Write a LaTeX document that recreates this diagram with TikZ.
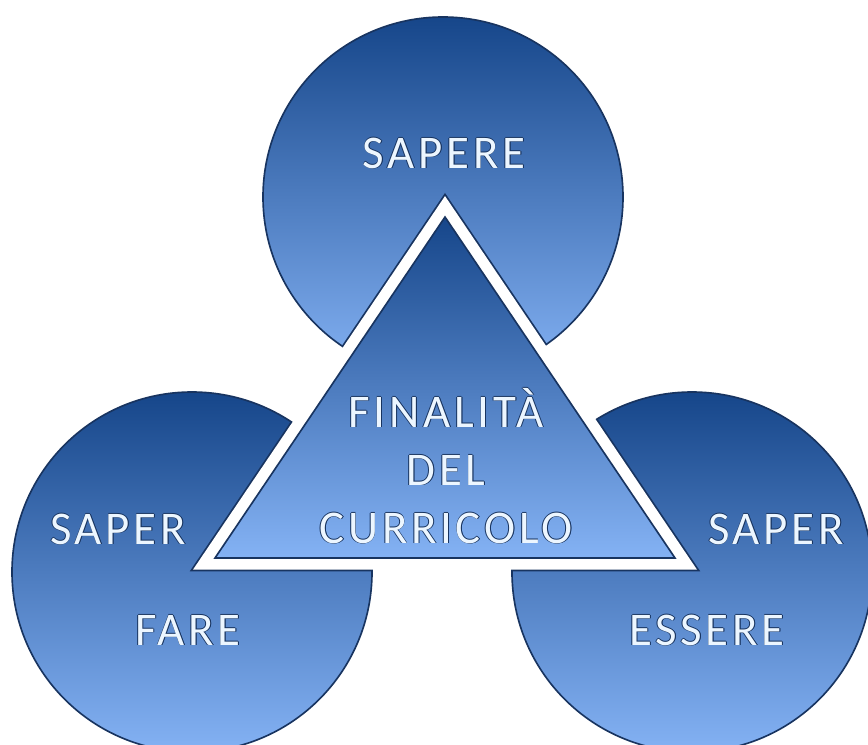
\documentclass[tikz,border=0pt]{standalone}
\usepackage{fontspec}
\newfontfamily\titolo{Carlito}[LetterSpace=8]

\definecolor{bluscuro}{RGB}{22,70,138}
\definecolor{blumedio}{RGB}{42,94,166}
\definecolor{bluchiaro}{RGB}{132,178,244}
\definecolor{bordo}{RGB}{24,52,96}
\definecolor{testochiaro}{RGB}{236,246,255}

\tikzset{
  pezzo/.style={top color=bluscuro, middle color=blumedio, bottom color=bluchiaro, draw=bordo, line width=1.4pt},
  scritta/.style={font=\titolo\fontsize{40}{48}\selectfont, text=testochiaro, anchor=base, inner sep=0pt},
  ombra/.style={scritta, text=bordo},
}

\newcommand{\etichetta}[3]{%
  \foreach \dx/\dy [count=\k] in {-0.6/0,0.6/0,0/0.6,0/-0.6,0.7/-0.7}
    \node[ombra, xshift=\dx pt, yshift=\dy pt] (#1-\k) at #2 {#3};
  \node[scritta] (#1) at #2 {#3};
}

\begin{document}
\begin{tikzpicture}[x=0.03cm, y=-0.03cm]
        \useasboundingbox (0,0) rectangle (868,744);
        \coordinate (csapere) at (443,197);
        \coordinate (cfare) at (192,572);
        \coordinate (cessere) at (692,572);
        \coordinate (vertice) at (445,217);
        \coordinate (sinistra) at (215,558);
        \coordinate (destra) at (675,558);
        % i tre cerchi
        \foreach \c in {csapere,cfare,cessere}
            \path[pezzo] (\c) circle (180);
        % bordo scuro del taglio
        \begin{scope}
            \clip (csapere) circle (180) (cfare) circle (180) (cessere) circle (180);
            \draw[bordo, line width=23pt, line join=miter] (vertice) -- (sinistra) -- (destra) -- cycle;
        \end{scope}
        \draw[white, line width=20pt, line join=miter] (vertice) -- (sinistra) -- (destra) -- cycle;
        % triangolo centrale
        \path[pezzo] (vertice) -- (sinistra) -- (destra) -- cycle;
        \etichetta{sapere}{(444,168)}{SAPERE}
        \etichetta{finalita}{(446,427)}{FINALITÀ}
        \etichetta{del}{(446,485)}{DEL}
        \etichetta{curricolo}{(446,543)}{CURRICOLO}
        \etichetta{saperfare}{(118,544)}{SAPER}
        \etichetta{fare}{(188,645)}{FARE}
        \etichetta{saperessere}{(776,544)}{SAPER}
        \etichetta{essere}{(707,645)}{ESSERE}
    \end{tikzpicture}
\end{document}
